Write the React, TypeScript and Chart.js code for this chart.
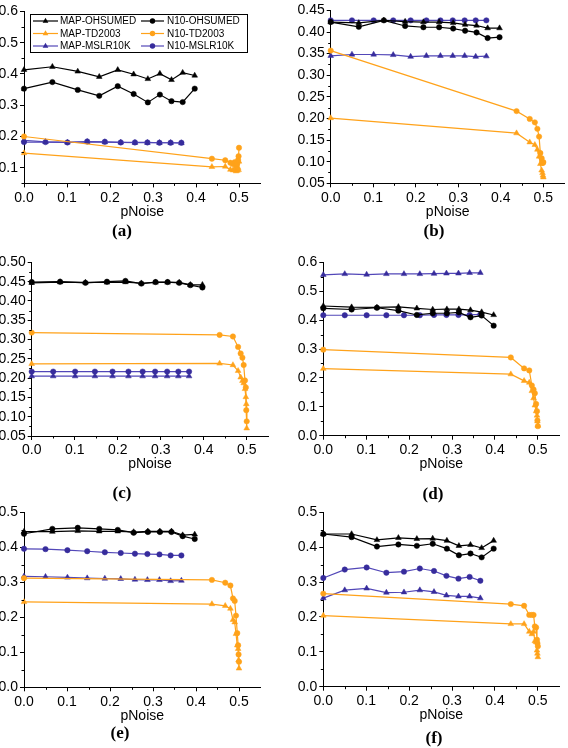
import React, { useEffect, useRef } from 'react';
import { Chart, registerables } from 'chart.js';

Chart.register(...registerables);

const FONT = "'Liberation Sans', Arial, Helvetica, sans-serif";

const seriesLabels = ['MAP-OHSUMED', 'N10-OHSUMED', 'MAP-TD2003', 'N10-TD2003', 'MAP-MSLR10K', 'N10-MSLR10K'];

// pNoise levels per dataset
const xOhsumed = [0, 0.066, 0.125, 0.175, 0.218, 0.255, 0.288, 0.316, 0.343, 0.369, 0.397];
const xTd2003 = [0, 0.437, 0.468, 0.48, 0.486, 0.49, 0.493, 0.496, 0.498, 0.499, 0.5];
const xMslr = [0, 0.05, 0.101, 0.147, 0.188, 0.225, 0.258, 0.287, 0.315, 0.341, 0.366];

// (a)
const mapOhsumedA = [0.413, 0.423, 0.408, 0.391, 0.413, 0.399, 0.384, 0.401, 0.381, 0.404, 0.395];
const n10OhsumedA = [0.353, 0.374, 0.349, 0.330, 0.361, 0.336, 0.309, 0.334, 0.313, 0.310, 0.353];
const mapTdA = [0.147, 0.103, 0.104, 0.094, 0.092, 0.097, 0.089, 0.091, 0.100, 0.093, 0.120];
const n10TdA = [0.200, 0.129, 0.124, 0.116, 0.112, 0.118, 0.108, 0.113, 0.125, 0.137, 0.164];
const mapMslrA = [0.188, 0.183, 0.181, 0.183, 0.182, 0.181, 0.180, 0.180, 0.180, 0.180, 0.179];
const n10MslrA = [0.182, 0.182, 0.181, 0.184, 0.183, 0.181, 0.181, 0.181, 0.180, 0.180, 0.180];

// (b)
const mapOhsumedB = [0.423, 0.421, 0.427, 0.424, 0.423, 0.423, 0.421, 0.417, 0.415, 0.409, 0.409];
const n10OhsumedB = [0.423, 0.412, 0.427, 0.414, 0.411, 0.411, 0.408, 0.403, 0.399, 0.386, 0.388];
const mapTdB = [0.201, 0.166, 0.145, 0.139, 0.128, 0.112, 0.095, 0.080, 0.074, 0.068, 0.064];
const n10TdB = [0.357, 0.217, 0.199, 0.191, 0.176, 0.158, 0.120, 0.108, 0.099, 0.097, 0.099];
const mapMslrB = [0.345, 0.348, 0.348, 0.347, 0.343, 0.345, 0.345, 0.345, 0.345, 0.343, 0.344];
const n10MslrB = [0.427, 0.427, 0.427, 0.427, 0.427, 0.427, 0.427, 0.427, 0.427, 0.427, 0.427];

// (c)
const mapOhsumedC = [0.447, 0.449, 0.448, 0.448, 0.449, 0.446, 0.448, 0.448, 0.448, 0.442, 0.442];
const n10OhsumedC = [0.449, 0.450, 0.447, 0.450, 0.452, 0.445, 0.449, 0.449, 0.447, 0.441, 0.435];
const mapTdC = [0.237, 0.238, 0.234, 0.219, 0.202, 0.193, 0.187, 0.172, 0.151, 0.133, 0.070];
const n10TdC = [0.318, 0.312, 0.308, 0.281, 0.264, 0.253, 0.234, 0.194, 0.176, 0.117, 0.088];
const mapMslrC = [0.205, 0.205, 0.205, 0.205, 0.205, 0.205, 0.205, 0.205, 0.205, 0.205, 0.205];
const n10MslrC = [0.217, 0.217, 0.217, 0.217, 0.217, 0.217, 0.217, 0.217, 0.217, 0.217, 0.217];

// (d)
const mapOhsumedD = [0.449, 0.445, 0.444, 0.446, 0.441, 0.437, 0.438, 0.438, 0.435, 0.428, 0.418];
const n10OhsumedD = [0.441, 0.437, 0.443, 0.433, 0.418, 0.424, 0.424, 0.427, 0.410, 0.416, 0.381];
const mapTdD = [0.232, 0.213, 0.190, 0.184, 0.155, 0.130, 0.105, 0.085, 0.070, 0.050, 0.035];
const n10TdD = [0.298, 0.271, 0.233, 0.226, 0.174, 0.160, 0.147, 0.110, 0.085, 0.053, 0.033];
const mapMslrD = [0.557, 0.560, 0.558, 0.560, 0.560, 0.560, 0.561, 0.562, 0.562, 0.564, 0.564];
const n10MslrD = [0.417, 0.417, 0.417, 0.417, 0.417, 0.417, 0.418, 0.418, 0.418, 0.418, 0.420];

// (e)
const mapOhsumedE = [0.445, 0.445, 0.447, 0.446, 0.446, 0.444, 0.446, 0.446, 0.446, 0.435, 0.437];
const n10OhsumedE = [0.439, 0.453, 0.456, 0.453, 0.450, 0.442, 0.444, 0.444, 0.444, 0.432, 0.424];
const mapTdE = [0.244, 0.238, 0.233, 0.225, 0.193, 0.186, 0.153, 0.120, 0.110, 0.077, 0.054];
const n10TdE = [0.312, 0.307, 0.299, 0.291, 0.254, 0.247, 0.205, 0.155, 0.120, 0.094, 0.073];
const mapMslrE = [0.317, 0.316, 0.314, 0.312, 0.311, 0.310, 0.308, 0.307, 0.307, 0.304, 0.305];
const n10MslrE = [0.396, 0.395, 0.392, 0.389, 0.386, 0.384, 0.382, 0.381, 0.380, 0.377, 0.377];

// (f)
const mapOhsumedF = [0.438, 0.438, 0.421, 0.427, 0.424, 0.425, 0.419, 0.404, 0.407, 0.398, 0.419];
const n10OhsumedF = [0.438, 0.429, 0.402, 0.408, 0.404, 0.410, 0.396, 0.377, 0.382, 0.371, 0.396];
const mapTdF = [0.204, 0.180, 0.180, 0.158, 0.151, 0.158, 0.131, 0.128, 0.104, 0.095, 0.085];
const n10TdF = [0.267, 0.237, 0.232, 0.206, 0.206, 0.206, 0.173, 0.170, 0.135, 0.125, 0.116];
const mapMslrF = [0.254, 0.277, 0.282, 0.270, 0.271, 0.277, 0.272, 0.262, 0.259, 0.259, 0.254];
const n10MslrF = [0.312, 0.336, 0.342, 0.327, 0.330, 0.339, 0.332, 0.318, 0.310, 0.315, 0.304];

// tick values
const xMajorTicks = [0, 0.1, 0.2, 0.3, 0.4, 0.5];
const xMinorTicks = [0.05, 0.15, 0.25, 0.35, 0.45];
const yTicksA = [0.1, 0.2, 0.3, 0.4, 0.5, 0.6];
const yMinorA = [0.05, 0.15, 0.25, 0.35, 0.45, 0.55];
const yTicksB = [0.05, 0.1, 0.15, 0.2, 0.25, 0.3, 0.35, 0.4, 0.45];
const yMinorB = [0.075, 0.125, 0.175, 0.225, 0.275, 0.325, 0.375, 0.425];
const yTicksC = [0.05, 0.1, 0.15, 0.2, 0.25, 0.3, 0.35, 0.4, 0.45, 0.5];
const yMinorC = [0.075, 0.125, 0.175, 0.225, 0.275, 0.325, 0.375, 0.425, 0.475];
const yTicksD = [0, 0.1, 0.2, 0.3, 0.4, 0.5, 0.6];
const yMinorD = [0.05, 0.15, 0.25, 0.35, 0.45, 0.55];
const yTicksE = [0, 0.1, 0.2, 0.3, 0.4, 0.5];
const yMinorE = [0.05, 0.15, 0.25, 0.35, 0.45];

const BLACK = '#000000';
const ORANGE = '#FFA21A';
const BLUE_LINE = '#5247B8';
const BLUE_PT = '#372C9C';

const seriesStyles = [
  { line: BLACK, pt: BLACK, style: 'triangle', xs: xOhsumed },
  { line: BLACK, pt: BLACK, style: 'circle', xs: xOhsumed },
  { line: ORANGE, pt: ORANGE, style: 'triangle', xs: xTd2003 },
  { line: ORANGE, pt: ORANGE, style: 'circle', xs: xTd2003 },
  { line: BLUE_LINE, pt: BLUE_PT, style: 'triangle', xs: xMslr },
  { line: BLUE_LINE, pt: BLUE_PT, style: 'circle', xs: xMslr },
];

const panels = [
  { tag: '(a)', L: 24, R: 260.5, T: 9, B: 183.4, cl: 0, yMin: 0.05, yMax: 0.6, yTicks: yTicksA, yMinor: yMinorA, dec: 1, legend: true, tagX: 122, tagY: 231,
    series: [mapOhsumedA, n10OhsumedA, mapTdA, n10TdA, mapMslrA, n10MslrA] },
  { tag: '(b)', L: 330.7, R: 564.6, T: 7.3, B: 183.3, cl: 284, yMin: 0.05, yMax: 0.45, yTicks: yTicksB, yMinor: yMinorB, dec: 2, legend: false, tagX: 434, tagY: 231,
    series: [mapOhsumedB, n10OhsumedB, mapTdB, n10TdB, mapMslrB, n10MslrB] },
  { tag: '(c)', L: 31.7, R: 268.2, T: 260, B: 436, cl: 0, yMin: 0.05, yMax: 0.5, yTicks: yTicksC, yMinor: yMinorC, dec: 2, legend: false, tagX: 122, tagY: 493,
    series: [mapOhsumedC, n10OhsumedC, mapTdC, n10TdC, mapMslrC, n10MslrC] },
  { tag: '(d)', L: 323.3, R: 559.3, T: 260, B: 435.7, cl: 284, yMin: 0, yMax: 0.6, yTicks: yTicksD, yMinor: yMinorD, dec: 1, legend: false, tagX: 433, tagY: 494,
    series: [mapOhsumedD, n10OhsumedD, mapTdD, n10TdD, mapMslrD, n10MslrD] },
  { tag: '(e)', L: 24, R: 260.5, T: 510.7, B: 687.3, cl: 0, yMin: 0, yMax: 0.5, yTicks: yTicksE, yMinor: yMinorE, dec: 1, legend: false, tagX: 120, tagY: 733,
    series: [mapOhsumedE, n10OhsumedE, mapTdE, n10TdE, mapMslrE, n10MslrE] },
  { tag: '(f)', L: 323.3, R: 559.3, T: 510.7, B: 686.7, cl: 284, yMin: 0, yMax: 0.5, yTicks: yTicksE, yMinor: yMinorE, dec: 1, legend: false, tagX: 434, tagY: 738,
    series: [mapOhsumedF, n10OhsumedF, mapTdF, n10TdF, mapMslrF, n10MslrF] },
];

const X_AXIS_H = 40;

function drawMarker(ctx: CanvasRenderingContext2D, style: string, x: number, y: number, r: number) {
  ctx.beginPath();
  if (style === 'triangle') {
    let rad = 0;
    ctx.moveTo(x + Math.sin(rad) * r, y - Math.cos(rad) * r);
    rad += (2 * Math.PI) / 3;
    ctx.lineTo(x + Math.sin(rad) * r, y - Math.cos(rad) * r);
    rad += (2 * Math.PI) / 3;
    ctx.lineTo(x + Math.sin(rad) * r, y - Math.cos(rad) * r);
    ctx.closePath();
  } else {
    ctx.arc(x, y, r, 0, Math.PI * 2);
  }
  ctx.fill();
}

const boxLegendPlugin = {
  id: 'boxLegend',
  afterDraw(chart: any, _args: any, opts: any) {
    if (!opts || !opts.show) return;
    const { ctx, chartArea } = chart;
    const bx = Math.round(chartArea.left + 6);
    const by = Math.round(chartArea.top + 3);
    const bw = 217;
    const bh = 38;
    ctx.save();
    ctx.fillStyle = '#ffffff';
    ctx.fillRect(bx, by, bw, bh);
    ctx.strokeStyle = '#000';
    ctx.lineWidth = 1;
    ctx.strokeRect(bx + 0.5, by + 0.5, bw, bh);
    ctx.font = `10px ${FONT}`;
    ctx.textBaseline = 'middle';
    ctx.textAlign = 'left';
    chart.data.datasets.forEach((d: any, i: number) => {
      const col = i % 2;
      const row = Math.floor(i / 2);
      const y = by + 7 + row * 12.5;
      const lx0 = bx + (col ? 111 : 3);
      const lx1 = bx + (col ? 134 : 28);
      ctx.strokeStyle = d.borderColor;
      ctx.lineWidth = 1.2;
      ctx.beginPath();
      ctx.moveTo(lx0, y);
      ctx.lineTo(lx1, y);
      ctx.stroke();
      ctx.fillStyle = d.pointBackgroundColor;
      drawMarker(ctx, d.pointStyle, (lx0 + lx1) / 2, y, d.pointStyle === 'triangle' ? 3.3 : 2.7);
      ctx.fillStyle = '#000';
      ctx.fillText(d.label, bx + (col ? 137 : 30), y + 0.5);
    });
    ctx.restore();
  },
};

const minorTicksPlugin = {
  id: 'minorTicks',
  afterDraw(chart: any, _args: any, opts: any) {
    const { ctx } = chart;
    const xs = chart.scales.x;
    const ys = chart.scales.y;
    ctx.save();
    ctx.strokeStyle = '#000';
    ctx.lineWidth = 1;
    ctx.beginPath();
    (opts.x || []).forEach((v: number) => {
      const px = Math.round(xs.getPixelForValue(v)) + 0.5;
      ctx.moveTo(px, ys.bottom);
      ctx.lineTo(px, ys.bottom + 2.5);
    });
    (opts.y || []).forEach((v: number) => {
      const py = Math.round(ys.getPixelForValue(v)) + 0.5;
      ctx.moveTo(xs.left, py);
      ctx.lineTo(xs.left - 2.5, py);
    });
    ctx.stroke();
    ctx.restore();
  },
};

function Panel({ p }: { p: any }) {
  const ref = useRef<HTMLCanvasElement | null>(null);
  const canvasTop = Math.max(0, Math.floor(p.T - 8));
  const padTop = p.T - canvasTop;
  const yW = p.L - p.cl;
  const canvasW = Math.ceil(p.R - p.cl + 6);
  const padRight = canvasW - (p.R - p.cl);
  const canvasH = Math.ceil(p.B - canvasTop + X_AXIS_H);
  const padBottom = canvasH - (p.B - canvasTop) - X_AXIS_H;

  useEffect(() => {
    if (!ref.current) return;
    const datasets = p.series.map((ys: number[], i: number) => {
      const s = seriesStyles[i];
      return {
        label: seriesLabels[i],
        data: s.xs.map((x: number, j: number) => ({ x, y: ys[j] })),
        showLine: true,
        borderColor: s.line,
        backgroundColor: s.pt,
        pointBackgroundColor: s.pt,
        pointBorderColor: s.pt,
        pointStyle: s.style,
        pointRadius: s.style === 'triangle' ? 3.3 : 2.7,
        pointBorderWidth: 0.5,
        borderWidth: 1.2,
        tension: 0,
        clip: false,
      };
    });
    const tickFont = { size: 14, family: FONT };
    const chart = new Chart(ref.current, {
      type: 'scatter',
      data: { datasets },
      plugins: [minorTicksPlugin, boxLegendPlugin],
      options: {
        animation: false,
        responsive: false,
        maintainAspectRatio: false,
        devicePixelRatio: 1,
        layout: { padding: { left: 0, top: padTop, right: padRight, bottom: padBottom } },
        plugins: {
          legend: { display: false },
          tooltip: { enabled: false },
          minorTicks: { x: xMinorTicks, y: p.yMinor },
          boxLegend: { show: p.legend },
        } as any,
        scales: {
          x: {
            type: 'linear',
            min: 0,
            max: 0.55,
            afterBuildTicks: (s: any) => {
              s.ticks = xMajorTicks.map((v) => ({ value: v }));
            },
            afterFit: (s: any) => {
              s.height = X_AXIS_H;
            },
            ticks: {
              callback: (v: any) => Number(v).toFixed(1),
              font: tickFont,
              color: '#000',
              padding: 2,
              maxRotation: 0,
              autoSkip: false,
            },
            grid: { display: true, drawOnChartArea: false, drawTicks: true, tickLength: 4, color: '#000', lineWidth: 1 },
            border: { display: true, color: '#000', width: 1 },
            title: { display: true, text: 'pNoise', font: tickFont, color: '#000', padding: { top: 0, bottom: 3 } },
          },
          y: {
            type: 'linear',
            min: p.yMin,
            max: p.yMax,
            afterBuildTicks: (s: any) => {
              s.ticks = p.yTicks.map((v: number) => ({ value: v }));
            },
            afterFit: (s: any) => {
              s.width = yW;
            },
            ticks: {
              callback: (v: any) => Number(v).toFixed(p.dec),
              font: tickFont,
              color: '#000',
              padding: 2,
              autoSkip: false,
            },
            grid: { display: true, drawOnChartArea: false, drawTicks: true, tickLength: 4, color: '#000', lineWidth: 1 },
            border: { display: true, color: '#000', width: 1 },
          },
        },
      } as any,
    });
    return () => chart.destroy();
  }, []);

  return (
    <>
      <canvas
        ref={ref}
        width={canvasW}
        height={canvasH}
        style={{ position: 'absolute', left: p.cl, top: canvasTop, width: canvasW, height: canvasH }}
      />
      <div
        style={{
          position: 'absolute',
          left: p.tagX - 20,
          top: p.tagY - 10,
          width: 40,
          textAlign: 'center',
          font: "bold 17px 'Liberation Serif', 'Times New Roman', serif",
          lineHeight: '20px',
          color: '#000',
        }}
      >
        {p.tag}
      </div>
    </>
  );
}

export default function App() {
  return (
    <div style={{ position: 'absolute', left: 0, top: 0, width: 568, height: 748, background: '#fff', overflow: 'hidden' }}>
      {panels.map((p) => (
        <Panel key={p.tag} p={p} />
      ))}
    </div>
  );
}
